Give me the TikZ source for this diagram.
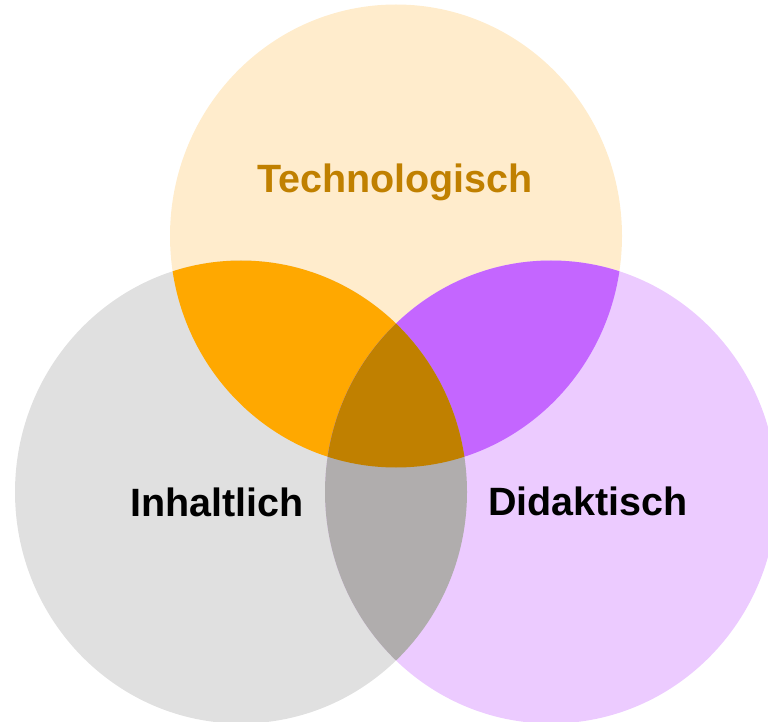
\documentclass[tikz,border=0pt]{standalone}
\usepackage{fontspec}
\setmainfont{Liberation Sans}
\usepackage{xcolor}
\usepackage{tikz}
\usetikzlibrary{positioning}
\definecolor{techfill}{HTML}{FFECCC}
\definecolor{inhaltfill}{HTML}{E0E0E0}
\definecolor{didaktfill}{HTML}{ECCBFF}
\definecolor{techinhalt}{HTML}{FFA800}
\definecolor{techdidakt}{HTML}{C466FF}
\definecolor{inhaltdidakt}{HTML}{B0ADAD}
\definecolor{allthree}{HTML}{C08000}
\newcommand{\blob}[1]{(#1) ellipse [x radius=226pt, y radius=231.5pt]}

\begin{document}
\begin{tikzpicture}[x = 1pt, y = 1pt,
    vennlabel/.style = {font = \bfseries\fontsize{39.5}{42}\selectfont, anchor = base}]
    \useasboundingbox (0,0) rectangle (768,721);
    \coordinate (t) at (396,485);
    \coordinate (l) at (241,229);
    \coordinate (r) at (551,229);
    % base circles
    \fill[techfill] \blob{t};
    \fill[inhaltfill] \blob{l};
    \fill[didaktfill] \blob{r};
    % overlaps
    \begin{scope}
      \clip \blob{t};
      \fill[techinhalt] \blob{l};
      \fill[techdidakt] \blob{r};
    \end{scope}
    \begin{scope}
      \clip \blob{l};
      \fill[inhaltdidakt] \blob{r};
      \clip \blob{r};
      \fill[allthree] \blob{t};
    \end{scope}
    \node[vennlabel, text = allthree] (tech) at (395,528) {Technologisch};
    \node[vennlabel] (inhalt) at (217,205) {Inhaltlich};
    \node[vennlabel] (didakt) at (588,206) {Didaktisch};
\end{tikzpicture}
\end{document}
